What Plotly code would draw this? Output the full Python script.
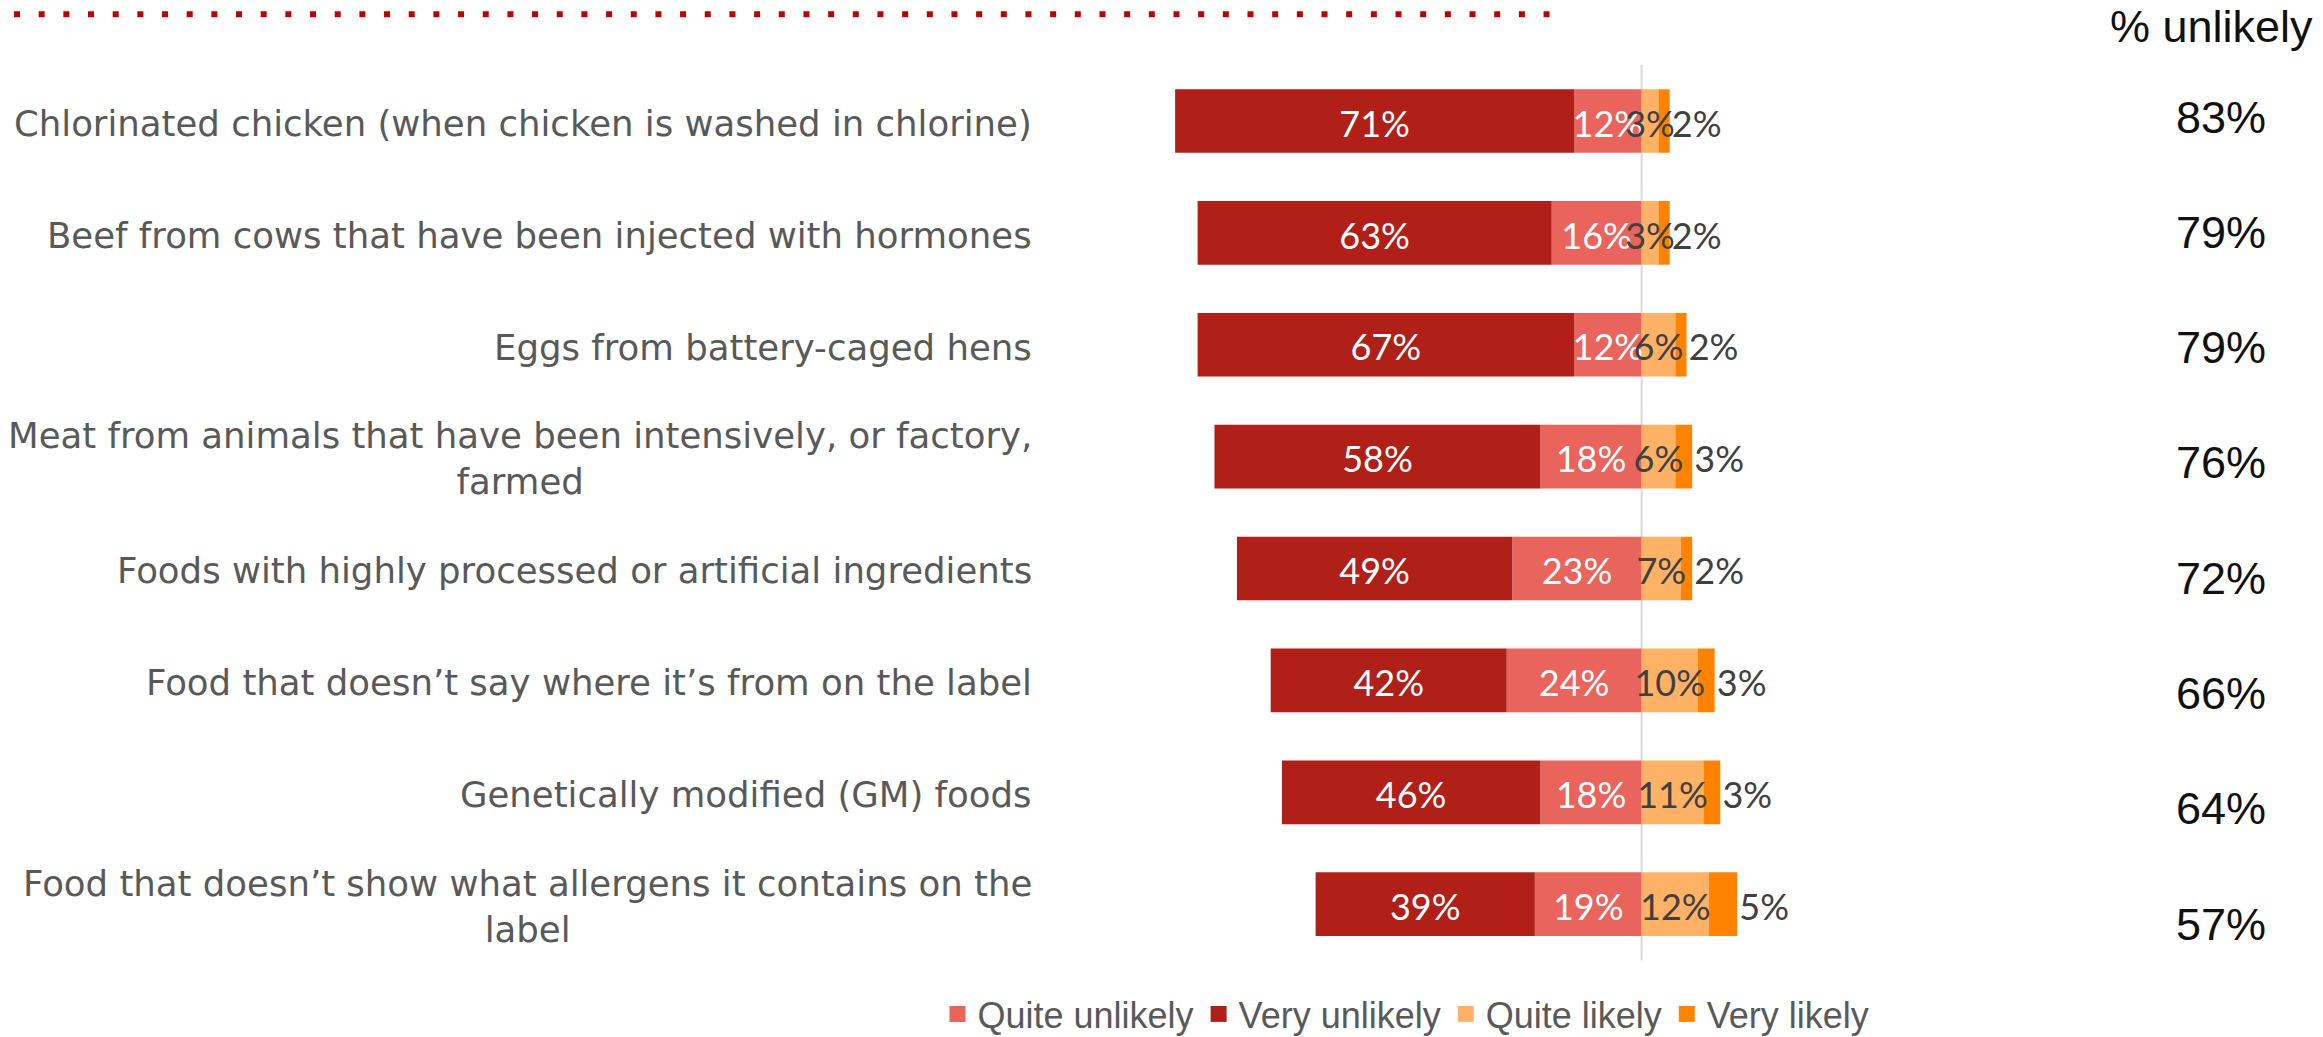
import plotly.graph_objects as go

# ---------------- data ----------------
categories = [
    "Chlorinated chicken (when chicken is washed in chlorine)",
    "Beef from cows that have been injected with hormones",
    "Eggs from battery-caged hens",
    "Meat from animals that have been intensively, or factory,<br>farmed",
    "Foods with highly processed or artificial ingredients",
    "Food that doesn’t say where it’s from on the label",
    "Genetically modified (GM) foods",
    "Food that doesn’t show what allergens it contains on the<br>label",
]
very_unlikely = [71, 63, 67, 58, 49, 42, 46, 39]
quite_unlikely = [12, 16, 12, 18, 23, 24, 18, 19]
quite_likely = [3, 3, 6, 6, 7, 10, 11, 12]
very_likely = [2, 2, 2, 3, 2, 3, 3, 5]
pct_unlikely = [83, 79, 79, 76, 72, 66, 64, 57]

series_names = ["Quite unlikely", "Very unlikely", "Quite likely", "Very likely"]
series_colors = ["#E8645C", "#B01F18", "#FFB266", "#FF8200"]

# ---------------- layout constants ----------------
W, H = 2323, 1037
plot_left, plot_right = 1100, 2000
zero_px, px_per_pct = 1641.6, 5.62
plot_top, plot_bottom = 65.06, 960.14
n = len(categories)

x_range = [(plot_left - zero_px) / px_per_pct, (plot_right - zero_px) / px_per_pct]
x_domain = [plot_left / W, plot_right / W]
y_domain = [(H - plot_bottom) / H, (H - plot_top) / H]

rows = list(range(n))
label_font = "Lato"
label_size = 36
vl_label_offset = 4.8   # label of the outermost segment sits just past the bar end
label_dy = 0.06         # small downward nudge so text looks optically centred

fig = go.Figure()


def pct(vals):
    return [f"{v}%" for v in vals]


def seg(xvals, idx):
    return go.Bar(
        y=rows, x=xvals, orientation="h", name=series_names[idx],
        marker=dict(color=series_colors[idx], line=dict(width=0)),
        showlegend=False, hoverinfo="skip")


fig.add_trace(seg([-v for v in quite_unlikely], 0))
fig.add_trace(seg([-v for v in very_unlikely], 1))
fig.add_trace(seg(quite_likely, 2))
fig.add_trace(seg(very_likely, 3))

# data labels (drawn above the bars, in the reference's stacking order)
label_rows = [r + label_dy for r in rows]
label_sets = [
    ([-(qu + vu / 2) for qu, vu in zip(quite_unlikely, very_unlikely)], pct(very_unlikely), "white"),
    ([-qu / 2 for qu in quite_unlikely], pct(quite_unlikely), "white"),
    ([ql / 2 for ql in quite_likely], pct(quite_likely), "#404040"),
    ([ql + vl + vl_label_offset for ql, vl in zip(quite_likely, very_likely)], pct(very_likely), "#404040"),
]
for xs, txt, col in label_sets:
    fig.add_trace(go.Scatter(
        x=xs, y=label_rows, mode="text", text=txt, textposition="middle center",
        textfont=dict(family=label_font, size=label_size, color=col),
        showlegend=False, hoverinfo="skip", cliponaxis=False))

# legend entries (square swatches)
for name, col in zip(series_names, series_colors):
    fig.add_trace(go.Scatter(
        x=[None], y=[None], mode="markers", name=name,
        marker=dict(symbol="square", size=20, color=col), showlegend=True))

annotations = []
for i, cat in enumerate(categories):
    annotations.append(dict(
        x=1034 / W, xref="paper", y=i + 0.02, yref="y", text=cat, showarrow=False,
        xanchor="right", yanchor="middle", align="center",
        font=dict(family="DejaVu Sans", size=35.5, color="#595959")))

# right-hand "% unlikely" column
annotations.append(dict(
    x=2211 / W, xref="paper", y=(H - 26) / H, yref="paper", text="% unlikely",
    showarrow=False, xanchor="center", yanchor="middle",
    font=dict(family="Liberation Sans", size=45, color="#111111")))
col_top, col_step = 117.0, 115.3
for i, v in enumerate(pct_unlikely):
    annotations.append(dict(
        x=2221 / W, xref="paper", y=(H - (col_top + i * col_step)) / H, yref="paper",
        text=f"{v}%", showarrow=False, xanchor="center", yanchor="middle",
        font=dict(family="Liberation Sans", size=45, color="#111111")))

shapes = [
    # zero line
    dict(type="line", xref="x", x0=0, x1=0, yref="paper", y0=y_domain[0], y1=y_domain[1],
         line=dict(color="#D9D9D9", width=2), layer="between"),
    # dotted red rule at top
    dict(type="line", xref="paper", x0=14 / W, x1=1550 / W, yref="paper",
         y0=(H - 14.3) / H, y1=(H - 14.3) / H,
         line=dict(color="#C00000", width=6, dash="6px,18.67px")),
]

fig.update_layout(
    width=W, height=H,
    margin=dict(l=0, r=0, t=0, b=0, autoexpand=False),
    paper_bgcolor="white", plot_bgcolor="white",
    barmode="relative", bargap=0.431,
    xaxis=dict(domain=x_domain, range=x_range, showgrid=False, zeroline=False,
               showticklabels=False, showline=False, ticks="", fixedrange=True),
    yaxis=dict(domain=y_domain, range=[n - 0.5, -0.5], showgrid=False, zeroline=False,
               showticklabels=False, showline=False, ticks="", fixedrange=True),
    legend=dict(orientation="h", x=1406 / W, xanchor="center", y=(H - 1014) / H,
                yanchor="middle", font=dict(family="Liberation Sans", size=36, color="#595959"),
                bgcolor="rgba(0,0,0,0)", itemclick=False, itemdoubleclick=False),
    annotations=annotations,
    shapes=shapes,
    showlegend=True,
)

fig.write_html(
    "out.html",
    config={"displayModeBar": False},
    post_script="document.body.style.margin='0';document.body.style.overflow='hidden';",
)
